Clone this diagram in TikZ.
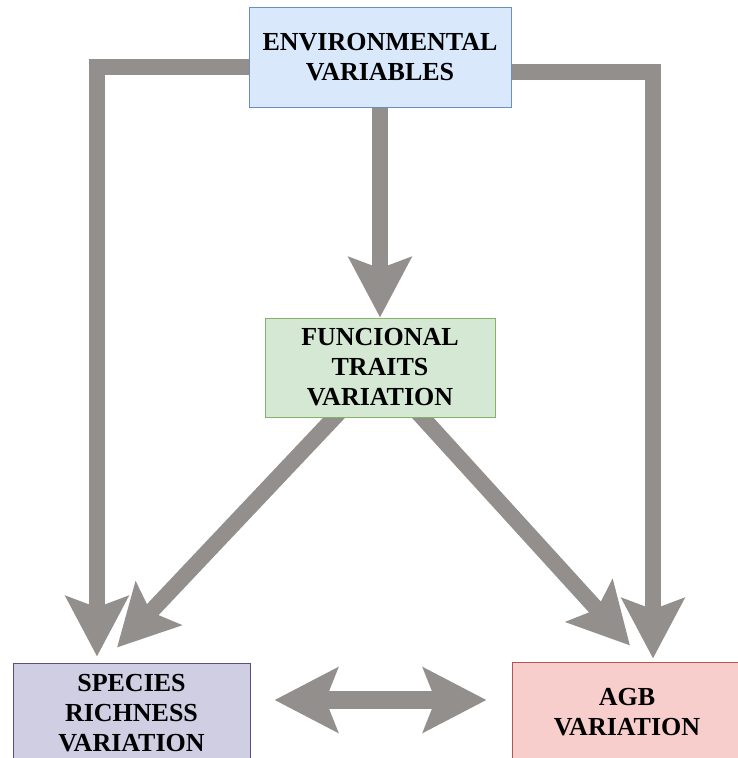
\documentclass[tikz,border=0pt]{standalone}
\usepackage{fontspec}
\setmainfont{Liberation Serif}
\usetikzlibrary{arrows.meta,positioning,backgrounds}
\definecolor{arrgray}{HTML}{928F8D}
\definecolor{bluefill}{HTML}{DAE8FC}\definecolor{bluedraw}{HTML}{6C8EBF}
\definecolor{greenfill}{HTML}{D5E8D4}\definecolor{greendraw}{HTML}{82B366}
\definecolor{purplefill}{HTML}{D0CEE2}\definecolor{purpledraw}{HTML}{56517E}
\definecolor{redfill}{HTML}{F8CECC}\definecolor{reddraw}{HTML}{B85450}
\tikzset{
  box/.style={rectangle, inner sep=0pt, align=center, line width=1pt,
    font=\fontsize{26}{30}\selectfont\bfseries, text=black},
  bigarrow/.style={draw=arrgray, line width=16pt, line join=miter,
    -{Stealth[length=60pt,width=62pt,inset=11pt]}},
  dblarrow/.style={draw=arrgray, line width=18pt,
    {Stealth[length=63pt,width=64pt,inset=12pt]}-{Stealth[length=63pt,width=64pt,inset=12pt]}}
}
\begin{document}
\begin{tikzpicture}[x=1pt,y=-1pt]
\useasboundingbox (0,0) rectangle (738,758);
\clip (0,0) rectangle (738,758);
\node[box, fill=bluefill, draw=bluedraw, minimum width=262pt, minimum height=100pt] (env) at (380,57) {ENVIRONMENTAL\\VARIABLES};
\node[box, fill=greenfill, draw=greendraw, minimum width=230pt, minimum height=99pt] (fun) at (380,367.5) {FUNCIONAL\\TRAITS\\VARIATION};
\node[box, fill=purplefill, draw=purpledraw, minimum width=237pt, minimum height=100pt] (spe) at (131.5,713) {SPECIES\\RICHNESS\\VARIATION};
\node[box, fill=redfill, draw=reddraw, minimum width=230pt, minimum height=100pt] (agb) at (627,712) {AGB\\VARIATION};
% connectors
\begin{scope}[on background layer]
\draw[bigarrow] ([shift={(0,10)}]env.west) -| ([shift={(-34.5,-6)}]spe.north);
\draw[bigarrow] ([shift={(0,15)}]env.east) -| ([shift={(26,-3)}]agb.north);
\draw[bigarrow] (env.south) -- (fun.north);
\draw[bigarrow] ([shift={(-40,-6)}]fun.south) -- ([shift={(-14.5,-15)}]spe.north);
\draw[bigarrow] ([shift={(37,-6)}]fun.south) -- ([shift={(3,-16)}]agb.north);
\draw[dblarrow] ([shift={(24,-13)}]spe.east) -- ([shift={(-25,-12)}]agb.west);
\end{scope}
\end{tikzpicture}
\end{document}
